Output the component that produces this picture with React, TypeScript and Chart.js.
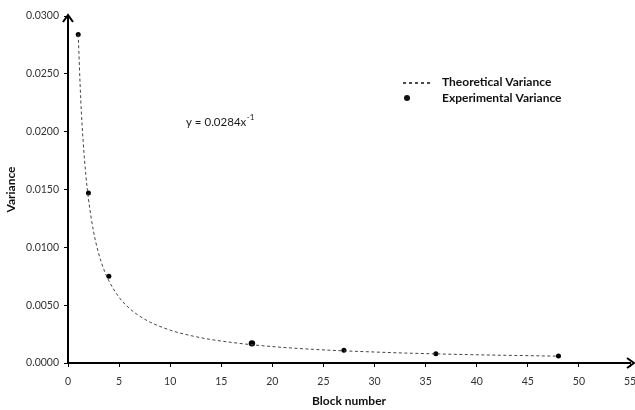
import React, { useEffect, useRef } from "react";
import { Chart, registerables } from "chart.js";

Chart.register(...registerables);

const expX = [1, 2, 4, 18, 27, 36, 48];
const expY = [0.0284, 0.0147, 0.0075, 0.0017, 0.0011, 0.0008, 0.0006];

const theoX = [1, 1.25, 1.5, 1.75, 2, 2.5, 3, 3.5, 4, 5, 6, 7, 8, 10, 12, 14, 16, 18, 21, 24, 27, 30, 33, 36, 40, 44, 48];
const theoY = [0.0284, 0.02272, 0.01893, 0.01623, 0.0142, 0.01136, 0.00947, 0.00811, 0.0071, 0.00568, 0.00473, 0.00406, 0.00355, 0.00284, 0.00237, 0.00203, 0.00178, 0.00158, 0.00135, 0.00118, 0.00105, 0.00095, 0.00086, 0.00079, 0.00071, 0.00065, 0.00059];

const legendLabels = ["Theoretical Variance", "Experimental Variance"];
const xTitle = "Block number";
const yTitle = "Variance";
const equationMain = "y = 0.0284x";
const equationSup = "-1";

const FONT = "Lato, 'Open Sans', sans-serif";

const overlayPlugin = {
  id: "overlay",
  afterDraw(chart: any) {
    const { ctx, chartArea } = chart;
    const { left, bottom, right, top } = chartArea;
    ctx.save();
    // arrowheads
    ctx.strokeStyle = "#000";
    ctx.lineWidth = 2;
    ctx.beginPath();
    ctx.moveTo(left - 5, top + 6);
    ctx.lineTo(left, top - 1);
    ctx.lineTo(left + 5, top + 6);
    ctx.stroke();
    ctx.beginPath();
    ctx.moveTo(right - 3, bottom - 5);
    ctx.lineTo(right + 4, bottom);
    ctx.lineTo(right - 3, bottom + 5);
    ctx.stroke();

    // legend
    ctx.fillStyle = "#111";
    ctx.font = "bold 12px " + FONT;
    ctx.textBaseline = "middle";
    ctx.textAlign = "left";
    ctx.fillText(legendLabels[0], 442, 82);
    ctx.fillText(legendLabels[1], 442, 98);
    ctx.strokeStyle = "#111";
    ctx.lineWidth = 1.5;
    ctx.setLineDash([3, 3]);
    ctx.beginPath();
    ctx.moveTo(403, 83);
    ctx.lineTo(430, 83);
    ctx.stroke();
    ctx.setLineDash([]);
    ctx.fillStyle = "#111";
    ctx.beginPath();
    ctx.arc(407, 98, 3, 0, Math.PI * 2);
    ctx.fill();

    // equation
    ctx.fillStyle = "#1a1a1a";
    ctx.font = "11.5px " + FONT;
    ctx.fillText(equationMain, 186, 122);
    const w = ctx.measureText(equationMain).width;
    ctx.font = "8px " + FONT;
    ctx.fillText(equationSup, 186 + w + 0.5, 117);
    ctx.restore();
  },
};

export default function App() {
  const ref = useRef<HTMLCanvasElement>(null);
  useEffect(() => {
    document.body.style.margin = "0";
    const chart = new Chart(ref.current!, {
      type: "scatter",
      data: {
        datasets: [
          {
            label: legendLabels[0],
            data: theoX.map((x, i) => ({ x, y: theoY[i] })),
            showLine: true,
            borderColor: "#444",
            borderWidth: 1,
            borderDash: [3, 2.5],
            pointRadius: 0,
            cubicInterpolationMode: "monotone",
          },
          {
            label: legendLabels[1],
            data: expX.map((x, i) => ({ x, y: expY[i] })),
            backgroundColor: "#000",
            borderColor: "#000",
            borderWidth: 0,
            pointRadius: [2.5, 2.5, 2.5, 3.2, 2.5, 2.5, 2.5],
          },
        ],
      },
      options: {
        animation: false,
        responsive: false,
        layout: { padding: { top: 16, right: 5, left: 0, bottom: 0 } },
        plugins: {
          legend: { display: false },
          tooltip: { enabled: false },
        },
        scales: {
          x: {
            type: "linear",
            min: 0,
            max: 55,
            ticks: { stepSize: 5, color: "#333", font: { family: FONT, size: 10.5 }, padding: 8 },
            grid: { display: true, drawOnChartArea: false, drawTicks: true, tickLength: 4, color: "#000", lineWidth: 1 },
            border: { color: "#000", width: 2 },
            title: { display: true, text: xTitle, color: "#111", font: { family: FONT, size: 12, weight: "bold" }, padding: { top: 2, bottom: 2 } },
            afterFit: (s: any) => { s.height = 47; s.paddingRight = 0; s.paddingLeft = 0; },
          },
          y: {
            type: "linear",
            min: 0,
            max: 0.03,
            ticks: {
              stepSize: 0.005,
              color: "#333",
              font: { family: FONT, size: 10.5 },
              padding: 5,
              callback: (v: any) => Number(v).toFixed(4),
            },
            grid: { display: true, drawOnChartArea: false, drawTicks: true, tickLength: 4, color: "#000", lineWidth: 1 },
            border: { color: "#000", width: 2 },
            title: { display: true, text: yTitle, color: "#111", font: { family: FONT, size: 12, weight: "bold" }, padding: { top: 4, bottom: 2 } },
            afterFit: (s: any) => { s.width = 68; s.paddingTop = 0; s.paddingBottom = 0; },
          },
        },
      },
      plugins: [overlayPlugin],
    } as any);
    return () => chart.destroy();
  }, []);
  return (
    <div style={{ width: 635, height: 410 }}>
      <canvas ref={ref} width={635} height={410} style={{ width: 635, height: 410 }} />
    </div>
  );
}
